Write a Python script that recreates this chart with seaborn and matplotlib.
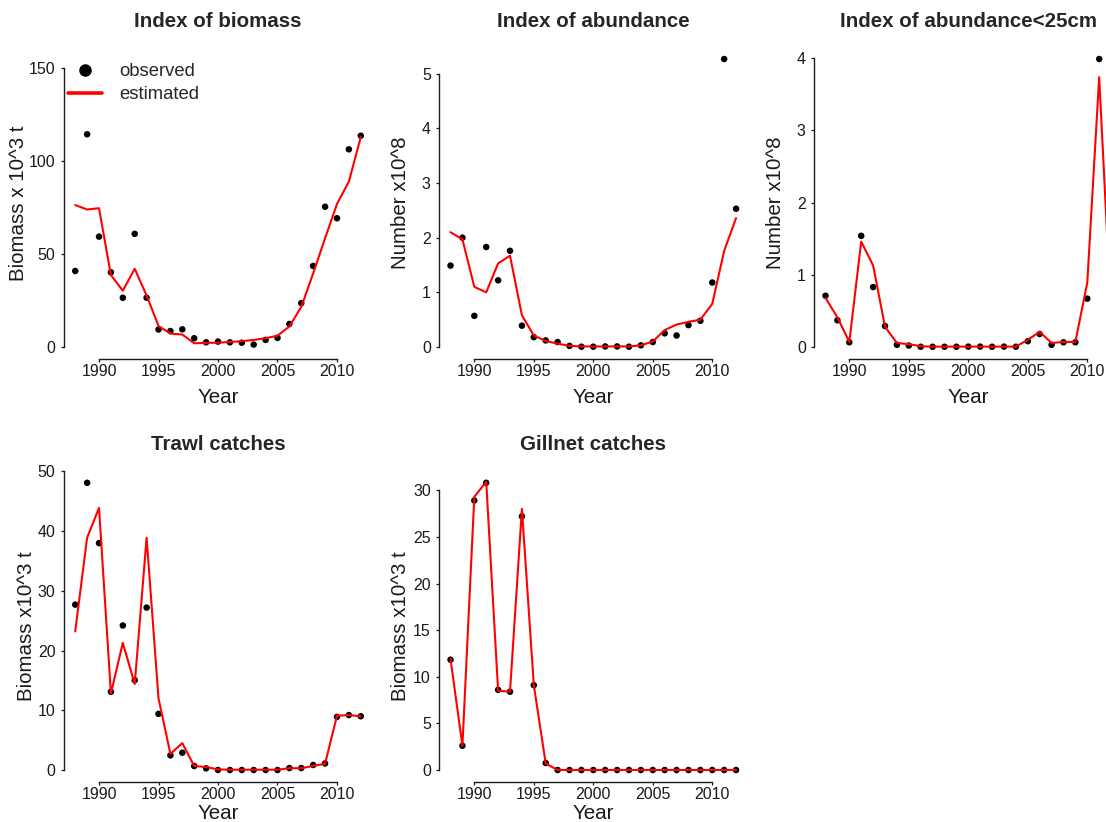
import matplotlib
matplotlib.use("Agg")
import matplotlib.pyplot as plt
from matplotlib.lines import Line2D
import pandas as pd
import seaborn as sns

# ---- data -------------------------------------------------------------
years = list(range(1988, 2013))

biomass_obs = [40.9, 114.5, 59.4, 40.2, 26.5, 60.9, 26.5, 9.4, 8.6, 9.5, 4.7, 2.5, 2.9,
               2.5, 2.3, 1.3, 3.8, 4.9, 12.4, 23.6, 43.6, 75.5, 69.3, 106.4, 113.7]
biomass_est = [76.4, 74.0, 74.7, 38.7, 30.3, 42.1, 27.7, 11.3, 7.2, 6.7, 2.0, 2.2, 2.3,
               2.7, 3.1, 3.8, 4.7, 6.1, 11.0, 21.6, 39.6, 58.5, 77.0, 89.0, 113.0]

abund_obs = [1.49, 2.00, 0.57, 1.83, 1.22, 1.76, 0.39, 0.18, 0.12, 0.09, 0.02, 0.005, 0.005,
             0.01, 0.01, 0.005, 0.03, 0.09, 0.25, 0.21, 0.40, 0.48, 1.18, 5.27, 2.53]
abund_est = [2.10, 1.97, 1.10, 1.00, 1.53, 1.67, 0.58, 0.21, 0.11, 0.06, 0.02, 0.01, 0.01,
             0.01, 0.01, 0.01, 0.03, 0.10, 0.31, 0.41, 0.46, 0.50, 0.79, 1.76, 2.36]

small_obs = [0.71, 0.37, 0.065, 1.54, 0.83, 0.29, 0.03, 0.02, 0.003, 0.003, 0.003, 0.003, 0.005,
             0.005, 0.003, 0.005, 0.003, 0.08, 0.18, 0.03, 0.065, 0.065, 0.67, 3.99, 0.50]
small_est = [0.68, 0.41, 0.07, 1.46, 1.13, 0.28, 0.055, 0.04, 0.01, 0.005, 0.005, 0.005, 0.005,
             0.005, 0.005, 0.005, 0.005, 0.10, 0.21, 0.055, 0.07, 0.07, 0.89, 3.74, 0.46]

trawl_obs = [27.7, 48.1, 38.0, 13.1, 24.2, 15.05, 27.2, 9.4, 2.45, 2.9, 0.67, 0.28, 0.0,
             0.0, 0.0, 0.0, 0.0, 0.0, 0.33, 0.33, 0.84, 1.1, 8.9, 9.2, 9.0]
trawl_est = [23.2, 38.9, 43.9, 12.8, 21.3, 14.4, 38.9, 12.0, 2.7, 4.5, 0.67, 0.5, 0.1,
             0.05, 0.05, 0.05, 0.05, 0.05, 0.3, 0.3, 0.7, 1.05, 9.1, 9.2, 9.0]

gill_obs = [11.83, 2.6, 28.9, 30.8, 8.6, 8.4, 27.2, 9.1, 0.75] + [0.0] * 16
gill_est = [11.9, 2.6, 29.3, 30.9, 8.5, 8.4, 28.0, 9.1, 0.7] + [0.0] * 16

titles = ["Index of biomass", "Index of abundance", "Index of abundance<25cm",
          "Trawl catches", "Gillnet catches"]
ylabels = ["Biomass x 10^3 t", "Number x10^8", "Number x10^8",
           "Biomass x10^3 t", "Biomass x10^3 t"]
yticks = [[0, 50, 100, 150], [0, 1, 2, 3, 4, 5], [0, 1, 2, 3, 4],
          [0, 10, 20, 30, 40, 50], [0, 5, 10, 15, 20, 25, 30]]
ytop = [155, 5.27, 3.99, 48.1, 30.8]
xticks = [1990, 1995, 2000, 2005, 2010]
series = [(biomass_obs, biomass_est), (abund_obs, abund_est), (small_obs, small_est),
          (trawl_obs, trawl_est), (gill_obs, gill_est)]

# ---- styling ----------------------------------------------------------
sns.set_style("ticks")
plt.rcParams["font.family"] = ["Liberation Sans", "DejaVu Sans"]
plt.rcParams["axes.linewidth"] = 1.0

W, H = 1106, 822
fig = plt.figure(figsize=(W / 100, H / 100), dpi=100)
fig.patch.set_facecolor("white")

# plot regions in pixels: (left, top, bottom)
pw = 308.4
regions = [(63.8, 47.5, 358.5), (439.1, 47.5, 358.5), (814.1, 47.5, 358.5),
           (63.8, 471.3, 781.5), (439.1, 471.3, 781.5)]
ylab_off = [-36.0, -28.8, -28.8, -28.0, -28.8]   # px from the left edge
xlab_off = [-29.1, -29.1, -29.1, -22.3, -22.3]   # px below the bottom edge
title_pad = [14.5, 14.5, 14.5, 15.3, 15.3]

x0, x1 = 1988, 2012
xpad = 0.04 * (x1 - x0)

for i, ((obs, est), (left, top, bottom)) in enumerate(zip(series, regions)):
    ph = bottom - top
    ax = fig.add_axes([left / W, 1 - bottom / H, pw / W, ph / H])
    ax.set_facecolor("white")
    df = pd.DataFrame({"Year": years, "observed": obs, "estimated": est})
    sns.scatterplot(data=df, x="Year", y="observed", ax=ax, color="black",
                    s=22, edgecolor="none", linewidth=0, zorder=2)
    sns.lineplot(data=df, x="Year", y="estimated", ax=ax, color="#ff0000",
                 lw=1.5, zorder=3)

    ax.set_xlim(x0 - xpad, x1 + xpad)
    ax.set_ylim(-0.04 * ytop[i], 1.04 * ytop[i])
    ax.set_xticks(xticks)
    ax.set_yticks(yticks[i])
    ax.spines["top"].set_visible(False)
    ax.spines["right"].set_visible(False)
    ax.spines["left"].set_bounds(yticks[i][0], yticks[i][-1])
    ax.spines["bottom"].set_bounds(xticks[0], xticks[-1])
    for sp in ("left", "bottom"):
        ax.spines[sp].set_color("#1a1a1a")
        ax.spines[sp].set_linewidth(1.0)
    ax.tick_params(axis="both", direction="out", length=2.4, width=0.9,
                   color="#1a1a1a", labelsize=11.5, labelcolor="#1a1a1a")
    ax.tick_params(axis="x", pad=1.2)
    ax.tick_params(axis="y", pad=3.6)

    ax.set_title(titles[i], fontsize=14.8, fontweight="bold", pad=title_pad[i])
    ax.set_xlabel("Year", fontsize=14.8, color="#1a1a1a")
    ax.set_ylabel(ylabels[i], fontsize=14.8, color="#1a1a1a")
    ax.xaxis.set_label_coords(0.5, xlab_off[i] / ph)
    ax.yaxis.set_label_coords(ylab_off[i] / pw, 0.5)

    if i == 0:
        handles = [Line2D([], [], ls="none", marker="o", ms=8, color="black"),
                   Line2D([], [], color="#ff0000", lw=2.6)]
        ax.legend(handles, ["observed", "estimated"], loc="upper left",
                  bbox_to_anchor=(68 / W, 1 - 63 / H), bbox_transform=fig.transFigure,
                  frameon=False, fontsize=13.3, handlelength=1.85, handletextpad=0.95,
                  labelspacing=0.35, borderpad=0, borderaxespad=0)

fig.savefig("out.png", dpi=100, facecolor="white")
